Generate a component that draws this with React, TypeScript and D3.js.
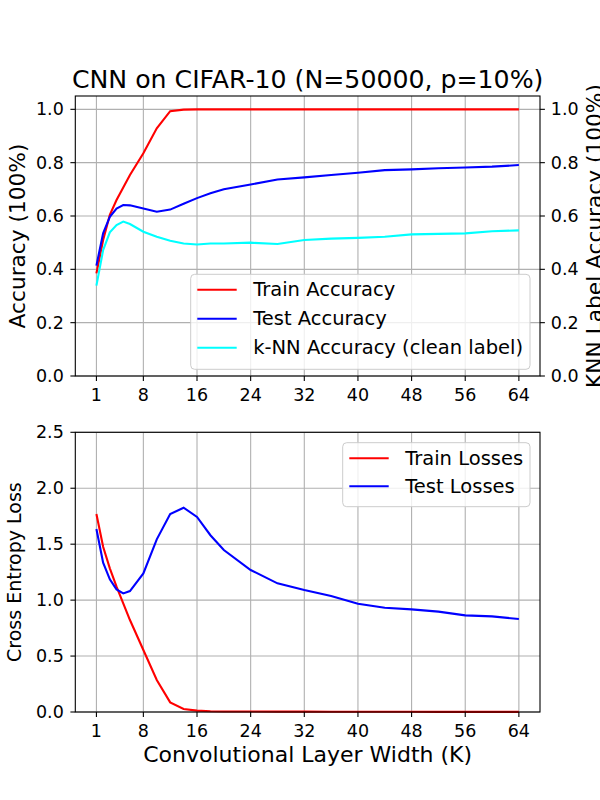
import * as d3 from "d3";

const widths = [1, 2, 3, 4, 5, 6, 8, 10, 12, 14, 16, 18, 20, 24, 28, 32, 36, 40, 44, 48, 52, 56, 60, 64];
const trainAcc = [0.385, 0.51, 0.604, 0.66, 0.707, 0.754, 0.835, 0.929, 0.993, 0.999, 1, 1, 1, 1, 1, 1, 1, 1, 1, 1, 1, 1, 1, 1];
const testAcc = [0.414, 0.535, 0.597, 0.628, 0.641, 0.64, 0.628, 0.616, 0.624, 0.646, 0.667, 0.685, 0.7, 0.718, 0.737, 0.745, 0.754, 0.762, 0.772, 0.775, 0.779, 0.782, 0.785, 0.791];
const knnAcc = [0.339, 0.472, 0.539, 0.566, 0.579, 0.57, 0.541, 0.522, 0.507, 0.497, 0.493, 0.497, 0.497, 0.5, 0.495, 0.51, 0.515, 0.518, 0.522, 0.531, 0.533, 0.535, 0.543, 0.546];
const trainLoss = [1.769, 1.477, 1.284, 1.12, 0.97, 0.822, 0.554, 0.286, 0.086, 0.027, 0.012, 0.007, 0.005, 0.004, 0.003, 0.003, 0.002, 0.002, 0.002, 0.002, 0.001, 0.001, 0.001, 0.001];
const testLoss = [1.635, 1.334, 1.186, 1.096, 1.06, 1.081, 1.239, 1.543, 1.769, 1.826, 1.743, 1.58, 1.448, 1.269, 1.15, 1.09, 1.037, 0.968, 0.932, 0.917, 0.897, 0.864, 0.855, 0.831];

const xTicks = [1, 8, 16, 24, 32, 40, 48, 56, 64];
const accTicks = [0, 0.2, 0.4, 0.6, 0.8, 1.0];
const lossTicks = [0, 0.5, 1.0, 1.5, 2.0, 2.5];

const accLegend = [
    { label: "Train Accuracy", color: "red" },
    { label: "Test Accuracy", color: "blue" },
    { label: "k-NN Accuracy (clean label)", color: "cyan" },
];
const lossLegend = [
    { label: "Train Losses", color: "red" },
    { label: "Test Losses", color: "blue" },
];

const FONT = "DejaVu Sans";
const left = 75.3, right = 540;
const top1 = 96, bottom1 = 376;
const top2 = 432.3, bottom2 = 712;
const tickFont = 17.5;

function Legend(props: { items: { label: string, color: string }[], x: number, y: number, w: number, rowH: number }) {
    const h = props.items.length * props.rowH + 8;
    return <g>
        <rect x={props.x} y={props.y} width={props.w} height={h} rx={4}
            fill="white" fillOpacity={0.8} stroke="#cccccc" strokeWidth={1} />
        {props.items.map((d, i) => {
            const cy = props.y + 15.5 + i * props.rowH;
            return <g key={d.label}>
                <line x1={props.x + 6.6} x2={props.x + 46} y1={cy} y2={cy} stroke={d.color} strokeWidth={2.1} />
                <text x={props.x + 62.5} y={cy} dominantBaseline="central" fontSize={19.5} fontFamily={FONT}>{d.label}</text>
            </g>;
        })}
    </g>;
}

export default function App() {
    const x = d3.scaleLinear().domain([-2.15, 67.15]).range([left, right]);
    const yAcc = d3.scaleLinear().domain([0, 1.05]).range([bottom1, top1]);
    const yLoss = d3.scaleLinear().domain([0, 2.5]).range([bottom2, top2]);

    const line = (ys: number[], y: d3.ScaleLinear<number, number>) =>
        d3.line<number>().x((_, i) => x(widths[i])).y(v => y(v))(ys) ?? "";

    const grid = (y: d3.ScaleLinear<number, number>, ticks: number[], t: number, b: number) => <g>
        {xTicks.map(v => <line key={"gx" + v} x1={x(v)} x2={x(v)} y1={t} y2={b} stroke="#b0b0b0" strokeWidth={1.1} />)}
        {ticks.map(v => <line key={"gy" + v} x1={left} x2={right} y1={y(v)} y2={y(v)} stroke="#b0b0b0" strokeWidth={1.1} />)}
    </g>;

    const axes = (y: d3.ScaleLinear<number, number>, ticks: number[], t: number, b: number, rightTicks: boolean) => <g>
        <rect x={left} y={t} width={right - left} height={b - t} fill="none" stroke="black" strokeWidth={1.1} />
        {xTicks.map(v => <g key={"xt" + v}>
            <line x1={x(v)} x2={x(v)} y1={b} y2={b + 4.9} stroke="black" strokeWidth={1.1} />
            <text x={x(v)} y={b + 24.5} textAnchor="middle" fontSize={tickFont} fontFamily={FONT}>{v}</text>
        </g>)}
        {ticks.map(v => <g key={"yt" + v}>
            <line x1={left - 4.9} x2={left} y1={y(v)} y2={y(v)} stroke="black" strokeWidth={1.1} />
            <text x={left - 11.5} y={y(v)} textAnchor="end" dominantBaseline="central" fontSize={tickFont} fontFamily={FONT}>{v.toFixed(1)}</text>
            {rightTicks && <>
                <line x1={right} x2={right + 4.9} y1={y(v)} y2={y(v)} stroke="black" strokeWidth={1.1} />
                <text x={right + 10.8} y={y(v)} textAnchor="start" dominantBaseline="central" fontSize={tickFont} fontFamily={FONT}>{v.toFixed(1)}</text>
            </>}
        </g>)}
    </g>;

    return <svg width={600} height={800} style={{ position: "absolute", left: 0, top: 0, background: "white" }}>
        <rect width={600} height={800} fill="white" />
        <text x={(left + right) / 2} y={88} textAnchor="middle" fontSize={25.2} fontFamily={FONT}>CNN on CIFAR-10 (N=50000, p=10%)</text>

        {grid(yAcc, accTicks, top1, bottom1)}
        <path d={line(trainAcc, yAcc)} fill="none" stroke="red" strokeWidth={2.1} />
        <path d={line(testAcc, yAcc)} fill="none" stroke="blue" strokeWidth={2.1} />
        <path d={line(knnAcc, yAcc)} fill="none" stroke="cyan" strokeWidth={2.1} />
        <Legend items={accLegend} x={190.7} y={274.3} w={339.3} rowH={29} />
        {axes(yAcc, accTicks, top1, bottom1, true)}
        <text transform={`translate(25,${(top1 + bottom1) / 2}) rotate(-90)`} textAnchor="middle" fontSize={21.7} fontFamily={FONT}>Accuracy (100%)</text>
        <text transform={`translate(602,${(top1 + bottom1) / 2}) rotate(-90)`} textAnchor="middle" fontSize={21.7} fontFamily={FONT}>KNN Label Accuracy (100%)</text>

        {grid(yLoss, lossTicks, top2, bottom2)}
        <path d={line(trainLoss, yLoss)} fill="none" stroke="red" strokeWidth={2.1} />
        <path d={line(testLoss, yLoss)} fill="none" stroke="blue" strokeWidth={2.1} />
        <Legend items={lossLegend} x={342.7} y={442.7} w={187.3} rowH={28} />
        {axes(yLoss, lossTicks, top2, bottom2, false)}
        <text transform={`translate(20.5,${(top2 + bottom2) / 2}) rotate(-90)`} textAnchor="middle" fontSize={19} fontFamily={FONT}>Cross Entropy Loss</text>
        <text x={(left + right) / 2} y={762} textAnchor="middle" fontSize={22} fontFamily={FONT}>Convolutional Layer Width (K)</text>
    </svg>;
}
